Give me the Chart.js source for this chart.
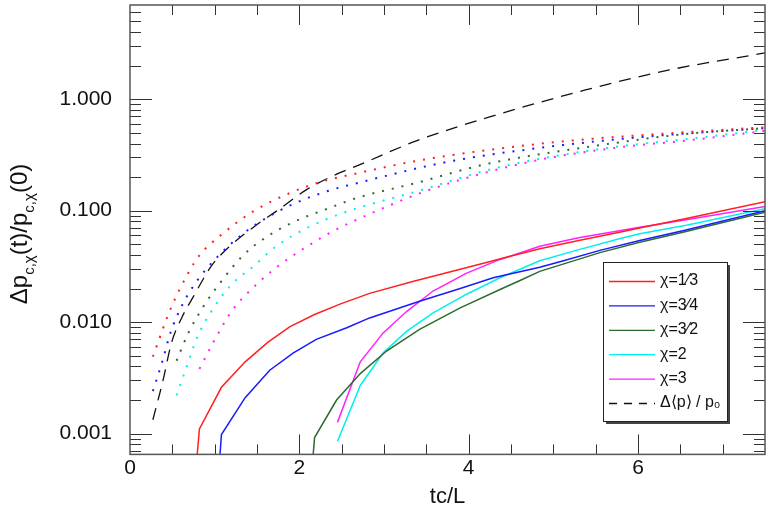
<!DOCTYPE html>
<html>
<head>
<meta charset="utf-8">
<script src="https://cdn.jsdelivr.net/npm/chart.js@4.4.1/dist/chart.umd.min.js"></script>
<style>
  body { margin: 0; background: #fff; }
  #wrap { width: 768px; height: 514px; }
</style>
</head>
<body>
<div id="wrap"><canvas id="chart" width="768" height="514"></canvas></div>
<script>
// axis ticks
const xTickValues = [0, 2, 4, 6];
const yTickValues = [0.001, 0.01, 0.1, 1];
const yTickLabels = ['0.001', '0.010', '0.100', '1.000'];

// legend labels
const solidLabels = ['χ=1⁄3', 'χ=3⁄4', 'χ=3⁄2', 'χ=2', 'χ=3'];
const dashLabel = 'Δ⟨p⟩ / p₀';
const colors = ['#ff2020', '#1a1aff', '#2e6b2e', '#00f0f0', '#ff20ff'];

// solid curves (tc/L, value)
const red1T = [0.79, 0.82, 1.08, 1.36, 1.63, 1.89, 2.18, 2.48, 2.83, 3.35, 3.66, 4.13, 4.49, 4.84, 5.3, 5.78, 6.02, 6.57, 7.5];
const red1V = [0.0006, 0.0011, 0.0026, 0.0044, 0.0066, 0.0091, 0.0117, 0.0145, 0.0181, 0.0233, 0.0267, 0.033, 0.039, 0.0455, 0.054, 0.064, 0.07, 0.085, 0.12];
const blue1T = [1.06, 1.08, 1.36, 1.65, 1.93, 2.2, 2.56, 2.83, 3.42, 3.9, 4.29, 4.84, 5.12, 5.55, 6.02, 6.53, 7.5];
const blue1V = [0.0006, 0.00098, 0.0021, 0.0037, 0.0053, 0.007, 0.0089, 0.0109, 0.0154, 0.02, 0.025, 0.031, 0.0355, 0.044, 0.054, 0.066, 0.1];
const green1T = [2.16, 2.18, 2.44, 2.72, 3.03, 3.42, 3.9, 4.37, 4.6, 4.84, 5.55, 6.02, 6.53, 7.5];
const green1V = [0.0006, 0.00092, 0.002, 0.00345, 0.0055, 0.0086, 0.0134, 0.0196, 0.0235, 0.0285, 0.042, 0.052, 0.064, 0.097];
const cyan1T = [2.45, 2.72, 2.99, 3.27, 3.58, 3.97, 4.37, 4.84, 5.27, 5.78, 6.02, 6.57, 7.5];
const cyan1V = [0.00085, 0.0027, 0.0053, 0.0083, 0.0121, 0.0177, 0.025, 0.0355, 0.044, 0.056, 0.062, 0.074, 0.104];
const mag1T = [2.45, 2.72, 2.99, 3.27, 3.58, 3.97, 4.37, 4.49, 4.84, 5.3, 5.78, 6.02, 6.57, 7.5];
const mag1V = [0.00126, 0.0044, 0.008, 0.0125, 0.019, 0.0274, 0.0365, 0.039, 0.048, 0.057, 0.066, 0.071, 0.083, 0.109];

// dotted curves
const red2T = [0.27, 0.48, 0.69, 0.82, 1.07, 1.46, 1.89, 2.24, 2.68, 3.39, 4.34, 5.3, 6.26, 7.5];
const red2V = [0.0049, 0.0132, 0.0277, 0.0397, 0.06, 0.099, 0.144, 0.18, 0.216, 0.28, 0.359, 0.431, 0.488, 0.56];
const blue2T = [0.27, 0.38, 0.48, 0.62, 0.81, 1.05, 1.31, 1.6, 1.93, 2.36, 2.7, 3.75, 4.82, 6.02, 7.5];
const blue2V = [0.0024, 0.0044, 0.0081, 0.0144, 0.0245, 0.0397, 0.06, 0.085, 0.115, 0.152, 0.178, 0.274, 0.364, 0.456, 0.55];
const green2T = [0.55, 0.69, 0.87, 1.08, 1.34, 1.61, 1.93, 2.36, 2.68, 3.39, 4.19, 5.38, 6.57, 7.5];
const green2V = [0.0045, 0.008, 0.0139, 0.0233, 0.04, 0.058, 0.079, 0.106, 0.13, 0.178, 0.26, 0.37, 0.488, 0.55];
const cyan2T = [0.55, 0.67, 0.79, 0.95, 1.18, 1.46, 1.73, 2.09, 2.56, 3.39, 4.34, 5.54, 6.77, 7.5];
const cyan2V = [0.0022, 0.004, 0.0072, 0.0121, 0.021, 0.0318, 0.048, 0.07, 0.098, 0.149, 0.243, 0.356, 0.456, 0.53];
const mag2T = [0.82, 0.98, 1.2, 1.48, 1.75, 2.05, 2.44, 2.68, 3.55, 4.74, 5.78, 6.57, 7.5];
const mag2V = [0.0038, 0.0065, 0.0125, 0.0213, 0.0318, 0.0456, 0.068, 0.083, 0.155, 0.276, 0.37, 0.425, 0.52];

// dashed <p> curve
const dashT = [0.27, 0.39, 0.49, 0.61, 0.75, 0.96, 1.18, 1.5, 1.73, 2.09, 2.48, 2.68, 3.39, 4.31, 5.38, 6.37, 7.5];
const dashV = [0.00133, 0.003, 0.0065, 0.0109, 0.017, 0.0318, 0.048, 0.075, 0.099, 0.155, 0.219, 0.252, 0.425, 0.716, 1.21, 1.83, 2.6];

const pts = (ts, vs) => ts.map((t, i) => ({ x: t, y: vs[i] }));

const solidSets = [[red1T, red1V], [blue1T, blue1V], [green1T, green1V], [cyan1T, cyan1V], [mag1T, mag1V]];
const dotSets = [[red2T, red2V], [blue2T, blue2V], [green2T, green2V], [cyan2T, cyan2V], [mag2T, mag2V]];

const datasets = [];
dotSets.forEach((s, i) => datasets.push({
  label: '', data: pts(s[0], s[1]), borderColor: colors[i], borderWidth: 2,
  borderDash: [2, 8], cubicInterpolationMode: 'monotone', pointRadius: 0
}));
datasets.push({
  label: dashLabel, data: pts(dashT, dashV), borderColor: '#111', borderWidth: 1.3,
  borderDash: [12, 8], cubicInterpolationMode: 'monotone', pointRadius: 0, inLegend: true
});
solidSets.forEach((s, i) => datasets.push({
  label: solidLabels[i], data: pts(s[0], s[1]), borderColor: colors[i], borderWidth: 1.5,
  tension: 0, pointRadius: 0, inLegend: true
}));

const FONT = "'Liberation Sans', Arial, sans-serif";

// inward ticks on all four sides plus the frame
const frameTicks = {
  id: 'frameTicks',
  afterDatasetsDraw(chart) {
    const { ctx, chartArea: a, scales: { x, y } } = chart;
    ctx.save();
    ctx.strokeStyle = '#333';
    ctx.lineWidth = 1;
    ctx.beginPath();
    for (let t = 0.5; t < 7.5; t += 0.5) {
      const px = Math.round(x.getPixelForValue(t)) + 0.5;
      const len = t % 2 === 0 ? 20 : 10;
      ctx.moveTo(px, a.bottom); ctx.lineTo(px, a.bottom - len);
      ctx.moveTo(px, a.top); ctx.lineTo(px, a.top + len);
    }
    for (let d = -4; d <= 1; d++) {
      for (let m = 1; m <= 9; m++) {
        const v = m * Math.pow(10, d);
        if (v <= y.min || v >= y.max) continue;
        const py = Math.round(y.getPixelForValue(v)) + 0.5;
        const len = m === 1 ? 22 : 11;
        ctx.moveTo(a.left, py); ctx.lineTo(a.left + len, py);
        ctx.moveTo(a.right, py); ctx.lineTo(a.right - len, py);
      }
    }
    ctx.stroke();
    ctx.strokeStyle = '#555';
    ctx.lineWidth = 1.5;
    ctx.strokeRect(a.left, a.top, a.right - a.left, a.bottom - a.top);
    ctx.restore();
  }
};

// legend box inside the plot
const boxLegend = {
  id: 'boxLegend',
  afterDraw(chart) {
    const ctx = chart.ctx;
    const bx = 603, by = 262, bw = 124, bh = 159;
    ctx.save();
    ctx.fillStyle = '#444';
    ctx.fillRect(bx + 3, by + 3, bw, bh);
    ctx.fillStyle = '#fff';
    ctx.fillRect(bx, by, bw, bh);
    ctx.strokeStyle = '#222';
    ctx.lineWidth = 1;
    ctx.strokeRect(bx + 0.5, by + 0.5, bw, bh);
    const items = chart.data.datasets.filter(d => d.inLegend);
    const order = solidLabels.concat([dashLabel]);
    order.forEach((lab, i) => {
      const ds = items.find(d => d.label === lab);
      const ry = by + 19 + i * 24.4;
      ctx.strokeStyle = ds.borderColor;
      ctx.lineWidth = 1.3;
      ctx.setLineDash(ds.borderDash ? [8, 7] : []);
      ctx.beginPath();
      ctx.moveTo(bx + 6, ry + 0.5); ctx.lineTo(bx + 52, ry + 0.5);
      ctx.stroke();
      ctx.setLineDash([]);
      ctx.fillStyle = '#111';
      ctx.font = '16px ' + FONT;
      ctx.textBaseline = 'middle';
      ctx.textAlign = 'left';
      ctx.fillText(lab, bx + 57, ry);
    });
    ctx.restore();
  }
};

// rotated y title with subscripts
const yTitle = {
  id: 'yTitle',
  afterDraw(chart) {
    const ctx = chart.ctx;
    const parts = [['Δp', 24, 0], ['c,χ', 15, 7], ['(t)/p', 24, 0], ['c,χ', 15, 7], ['(0)', 24, 0]];
    ctx.save();
    let total = 0;
    parts.forEach(p => { ctx.font = p[1] + 'px ' + FONT; total += ctx.measureText(p[0]).width; });
    ctx.translate(27, 234);
    ctx.rotate(-Math.PI / 2);
    ctx.fillStyle = '#111';
    ctx.textBaseline = 'alphabetic';
    ctx.textAlign = 'left';
    let cx = -total / 2;
    parts.forEach(p => {
      ctx.font = p[1] + 'px ' + FONT;
      ctx.fillText(p[0], cx, p[2]);
      cx += ctx.measureText(p[0]).width;
    });
    ctx.restore();
  }
};

new Chart(document.getElementById('chart'), {
  type: 'line',
  data: { datasets },
  options: {
    responsive: false,
    animation: false,
    layout: { padding: { top: 5, right: 3, left: 0, bottom: 0 } },
    plugins: { legend: { display: false }, tooltip: { enabled: false } },
    scales: {
      x: {
        type: 'linear', min: 0, max: 7.5,
        grid: { display: false, drawTicks: false },
        border: { display: false },
        afterBuildTicks: s => { s.ticks = xTickValues.map(v => ({ value: v })); },
        afterFit: s => { s.paddingRight = 0; s.paddingLeft = 0; },
        ticks: { color: '#111', font: { family: FONT, size: 21 }, padding: 1, maxRotation: 0 },
        title: { display: true, text: 'tc/L', color: '#111', font: { family: FONT, size: 22 }, padding: { top: 2, bottom: 4 } }
      },
      y: {
        type: 'logarithmic', min: 0.00065, max: 7,
        grid: { display: false, drawTicks: false },
        border: { display: false },
        afterBuildTicks: s => { s.ticks = yTickValues.map(v => ({ value: v })); },
        afterFit: s => { s.width = 130; s.paddingTop = 0; s.paddingBottom = 0; },
        ticks: {
          color: '#111', font: { family: FONT, size: 21 }, padding: 18,
          callback: v => { const i = yTickValues.findIndex(t => Math.abs(t - v) / t < 1e-6); return i >= 0 ? yTickLabels[i] : ''; }
        }
      }
    }
  },
  plugins: [frameTicks, boxLegend, yTitle]
});
</script>
</body>
</html>
